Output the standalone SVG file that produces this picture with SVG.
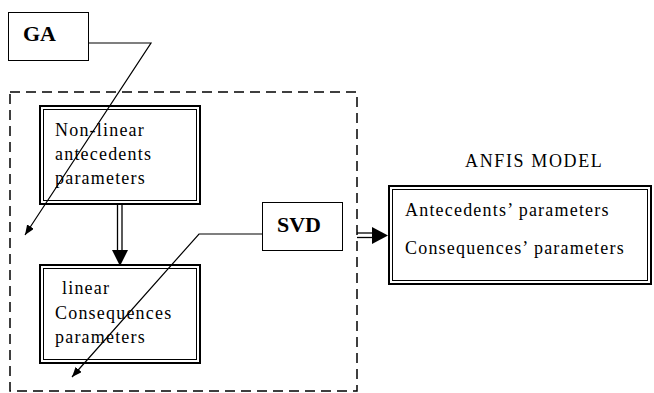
<svg xmlns="http://www.w3.org/2000/svg" width="654" height="393" viewBox="0 0 654 393">
  <defs>
    <marker id="tip" viewBox="0 0 10 8" refX="10" refY="4" markerWidth="10" markerHeight="8" markerUnits="userSpaceOnUse" orient="auto">
      <path d="M0,0 L10,4 L0,8 Z" fill="#000"/>
    </marker>
  </defs>
  <style>
    .box { fill: #fff; stroke: #000; stroke-width: 1; }
    .outer { fill: #fff; stroke: #000; stroke-width: 2; }
    .inner { fill: none; stroke: #000; stroke-width: 1; }
    .frame { fill: none; stroke: #000; stroke-width: 1.5; stroke-dasharray: 10 6; }
    .lbl { font-family: "Liberation Serif", "Times New Roman", serif; font-size: 18px; fill: #000; letter-spacing: 1.2px; }
    .big { font-family: "Liberation Serif", "Times New Roman", serif; font-size: 22px; font-weight: bold; fill: #000; }
    .link { fill: none; stroke: #000; stroke-width: 1.2; }
    .dbl { stroke: #000; stroke-width: 1.3; }
  </style>

  <rect class="frame" x="10" y="92" width="347" height="299"/>

  <g id="ga">
    <rect class="box" x="8.5" y="12.5" width="80" height="48"/>
    <text class="big" x="23" y="41">GA</text>
  </g>

  <g id="nonlinear">
    <rect class="outer" x="40" y="106" width="160" height="98"/>
    <rect class="inner" x="43.5" y="109.5" width="153" height="91"/>
    <text class="lbl" x="55" y="136">Non-linear</text>
    <text class="lbl" x="55" y="160">antecedents</text>
    <text class="lbl" x="55" y="184">parameters</text>
  </g>

  <g id="linear">
    <rect class="outer" x="40" y="265" width="160" height="98"/>
    <rect class="inner" x="43.5" y="268.5" width="153" height="91"/>
    <text class="lbl" x="62" y="294">linear</text>
    <text class="lbl" x="55" y="319" letter-spacing="1.4">Consequences</text>
    <text class="lbl" x="55" y="343">parameters</text>
  </g>

  <g id="svd">
    <rect class="box" x="262.5" y="202.5" width="80" height="48"/>
    <text class="big" x="277" y="232">SVD</text>
  </g>

  <g id="anfis">
    <text class="lbl" x="465" y="167" font-size="16" textLength="138" lengthAdjust="spacing">ANFIS MODEL</text>
    <rect class="outer" x="389" y="186" width="262" height="98"/>
    <rect class="inner" x="392.5" y="189.5" width="255" height="91"/>
    <text class="lbl" x="405" y="216">Antecedents’ parameters</text>
    <text class="lbl" x="405" y="254">Consequences’ parameters</text>
  </g>

  <g id="connectors">
    <polyline class="link" points="88,43 151,43 25,235" marker-end="url(#tip)"/>
    <polyline class="link" points="262,234 199,234 72,377" marker-end="url(#tip)"/>
    <line class="dbl" x1="117.5" y1="205" x2="117.5" y2="252"/>
    <line class="dbl" x1="122" y1="205" x2="122" y2="252"/>
    <path d="M112,250 L128,250 L120,266 Z" fill="#000"/>
    <line class="dbl" x1="357" y1="233" x2="375" y2="233"/>
    <line class="dbl" x1="357" y1="237.5" x2="375" y2="237.5"/>
    <path d="M372,227 L372,244 L388,235.5 Z" fill="#000"/>
  </g>
</svg>
